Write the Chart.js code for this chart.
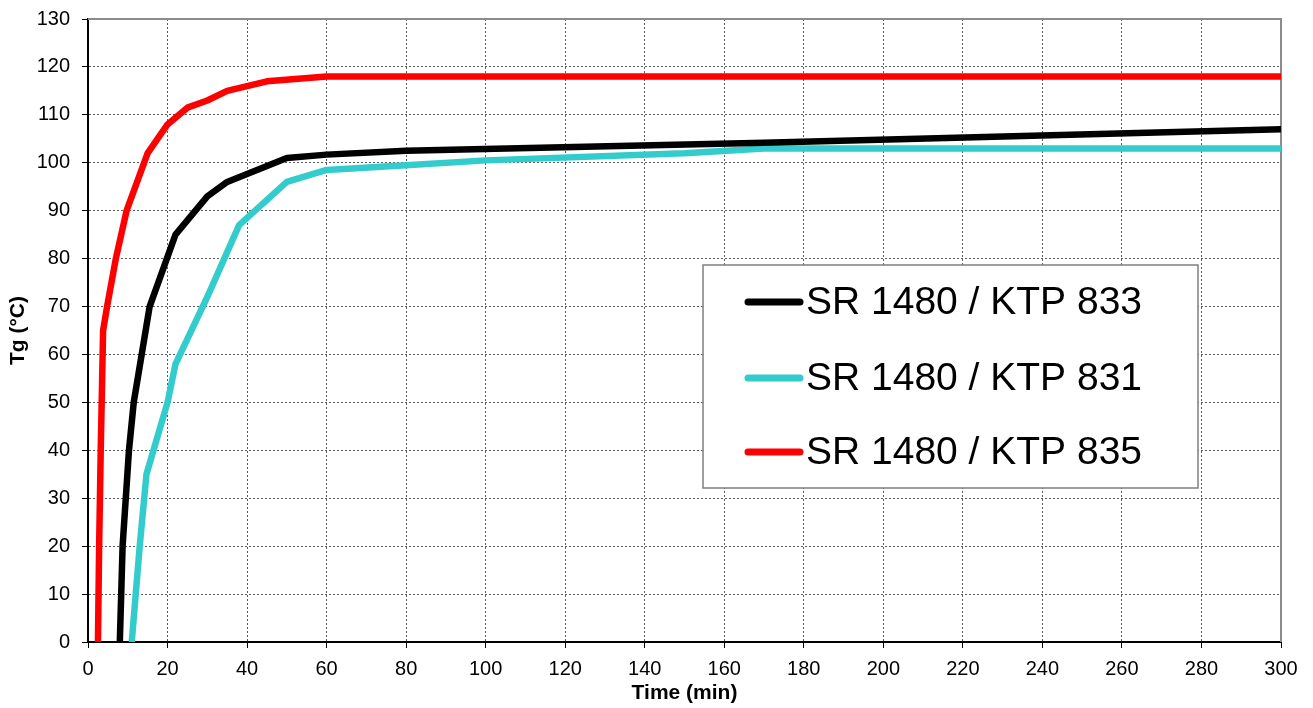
<!DOCTYPE html>
<html>
<head>
<meta charset="utf-8">
<script src="https://cdn.jsdelivr.net/npm/chart.js@4/dist/chart.umd.min.js"></script>
<style>
html,body{margin:0;padding:0;background:#fff;}
#wrap{width:1313px;height:708px;position:relative;}
</style>
</head>
<body>
<div id="wrap"><canvas id="c" width="1313" height="708"></canvas></div>
<script>
// Data
const seriesNames = ["SR 1480 / KTP 833", "SR 1480 / KTP 831", "SR 1480 / KTP 835"];
const seriesColors = ["#000000", "#33CCCC", "#FF0000"];

const t833 = [8, 8.7, 10.3, 11.5, 15.5, 22, 30, 35, 50, 60, 80, 170, 300];
const v833 = [0, 20, 40, 50, 70, 85, 93, 96, 101, 101.7, 102.5, 104.2, 107];

const t831 = [11, 13, 14.7, 20, 22, 30, 38, 50, 60, 80, 100, 150, 170, 300];
const v831 = [0, 20, 35, 50, 58, 72, 87, 96, 98.5, 99.5, 100.5, 102, 103, 103];

const t835 = [2.5, 2.8, 3.2, 3.8, 4.8, 7, 9.7, 15, 20, 25, 30, 35, 45, 60, 300];
const v835 = [0, 20, 40, 65, 70, 80, 90, 102, 108, 111.5, 113, 115, 117, 118, 118];

const xTicks = [0,20,40,60,80,100,120,140,160,180,200,220,240,260,280,300];
const yTicks = [0,10,20,30,40,50,60,70,80,90,100,110,120,130];

const FONT = "'Liberation Sans', Arial, sans-serif";

function pts(t, v){ return t.map((x,i)=>({x:x, y:v[i]})); }

const frame = {
  id: 'frame',
  beforeDatasetsDraw(chart){
    const {ctx, chartArea:a} = chart;
    ctx.save();
    ctx.strokeStyle = '#8c8c8c';
    ctx.lineWidth = 2;
    ctx.beginPath();
    ctx.moveTo(a.left, a.top); ctx.lineTo(a.right, a.top); ctx.lineTo(a.right, a.bottom);
    ctx.stroke();
    ctx.restore();
  }
};

const legendBox = {
  id: 'legendBox',
  afterDraw(chart){
    const {ctx, chartArea:a} = chart;
    const x0 = a.left + 615, y0 = a.top + 246, w = 495, h = 223;
    ctx.save();
    ctx.fillStyle = '#fff';
    ctx.fillRect(x0, y0, w, h);
    ctx.strokeStyle = '#7f7f7f';
    ctx.lineWidth = 1.5;
    ctx.strokeRect(x0, y0, w, h);
    const rows = [37, 113, 187];
    ctx.font = "39px " + FONT;
    ctx.textBaseline = 'middle';
    ctx.textAlign = 'left';
    seriesNames.forEach((n,i)=>{
      const y = y0 + rows[i];
      ctx.strokeStyle = seriesColors[i];
      ctx.lineWidth = 7;
      ctx.lineCap = 'round';
      ctx.beginPath();
      ctx.moveTo(x0 + 45, y); ctx.lineTo(x0 + 97, y);
      ctx.stroke();
      ctx.fillStyle = '#000';
      ctx.fillText(n, x0 + 103, y + 1);
    });
    ctx.restore();
  }
};

const mkDs = (i, t, v) => ({
  label: seriesNames[i],
  data: pts(t, v),
  borderColor: seriesColors[i],
  backgroundColor: seriesColors[i],
  borderWidth: 6.5,
  pointRadius: 0,
  tension: 0,
  borderJoinStyle: 'round',
  borderCapStyle: 'butt',
  fill: false
});

new Chart(document.getElementById('c'), {
  type: 'line',
  data: {
    datasets: [mkDs(0, t833, v833), mkDs(1, t831, v831), mkDs(2, t835, v835)]
  },
  options: {
    responsive: false,
    animation: false,
    devicePixelRatio: 1,
    layout: { padding: { top: 19, right: 32, left: 0, bottom: 0 } },
    plugins: { legend: { display: false }, tooltip: { enabled: false } },
    scales: {
      x: {
        type: 'linear',
        min: 0, max: 300,
        afterBuildTicks(s){ s.ticks = xTicks.map(v=>({value:v})); },
        afterFit(s){ s.height = 66; s.paddingLeft = 0; s.paddingRight = 0; },
        ticks: { color: '#000', font: { family: FONT, size: 20 }, padding: 9, maxRotation: 0, autoSkip: false },
        grid: { color: '#5a5a5a', lineWidth: 1, tickLength: 6, tickColor: '#000', tickBorderDash: [] },
        border: { display: true, color: '#000', width: 2, dash: [2,2] },
        title: { display: true, text: 'Time (min)', color: '#000', font: { family: FONT, size: 21, weight: 'bold' }, padding: { top: 0, bottom: 2 } }
      },
      y: {
        type: 'linear',
        min: 0, max: 130,
        afterBuildTicks(s){ s.ticks = yTicks.map(v=>({value:v})); },
        afterFit(s){ s.width = 88; s.paddingTop = 0; s.paddingBottom = 0; },
        ticks: { color: '#000', font: { family: FONT, size: 20 }, padding: 12, autoSkip: false },
        grid: { color: '#5a5a5a', lineWidth: 1, tickLength: 6, tickColor: '#000', tickBorderDash: [] },
        border: { display: true, color: '#000', width: 2, dash: [2,2] },
        title: { display: true, text: 'Tg (°C)', color: '#000', font: { family: FONT, size: 21, weight: 'bold' }, padding: { top: 6, bottom: 0 } }
      }
    }
  },
  plugins: [frame, legendBox]
});
</script>
</body>
</html>
